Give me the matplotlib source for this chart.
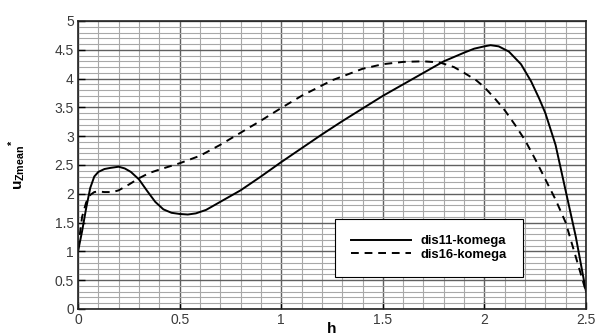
import numpy as np
import matplotlib
matplotlib.use("Agg")
import matplotlib.pyplot as plt
from matplotlib.ticker import MultipleLocator

plt.rcParams['font.family'] = ['Liberation Sans', 'DejaVu Sans']
plt.rcParams['mathtext.fontset'] = 'custom'
plt.rcParams['mathtext.rm'] = 'Liberation Sans'
plt.rcParams['mathtext.bf'] = 'Liberation Sans:bold'

# data
h_dis11 = [0.0, 0.02, 0.04, 0.06, 0.08, 0.1, 0.13, 0.16, 0.2, 0.23, 0.26, 0.3, 0.34, 0.38,
           0.42, 0.46, 0.5, 0.54, 0.58, 0.63, 0.7, 0.8, 0.9, 1.0, 1.1, 1.2, 1.3, 1.4, 1.5,
           1.6, 1.7, 1.8, 1.9, 1.95, 2.0, 2.03, 2.07, 2.12, 2.18, 2.23, 2.27, 2.3, 2.35,
           2.4, 2.45, 2.5]
u_dis11 = [1.0, 1.35, 1.75, 2.1, 2.3, 2.38, 2.43, 2.45, 2.47, 2.44, 2.38, 2.25, 2.05, 1.86,
           1.73, 1.67, 1.65, 1.64, 1.66, 1.72, 1.86, 2.06, 2.3, 2.55, 2.79, 3.03, 3.26, 3.48, 3.7,
           3.9, 4.1, 4.3, 4.45, 4.52, 4.56, 4.58, 4.56, 4.47, 4.25, 3.95, 3.65, 3.4, 2.85,
           2.05, 1.25, 0.3]

h_dis16 = [0.0, 0.02, 0.04, 0.06, 0.08, 0.1, 0.13, 0.17, 0.2, 0.25, 0.3, 0.35, 0.4, 0.5,
           0.6, 0.7, 0.8, 0.9, 1.0, 1.1, 1.25, 1.4, 1.5, 1.6, 1.7, 1.78, 1.85, 1.9, 1.96,
           2.0, 2.05, 2.1, 2.15, 2.2, 2.25, 2.3, 2.35, 2.4, 2.45, 2.5]
u_dis16 = [1.05, 1.6, 1.85, 1.98, 2.03, 2.04, 2.03, 2.03, 2.06, 2.16, 2.27, 2.36, 2.42, 2.53,
           2.66, 2.85, 3.06, 3.27, 3.49, 3.7, 3.97, 4.17, 4.25, 4.29, 4.3, 4.28, 4.2, 4.1,
           3.97, 3.85, 3.66, 3.45, 3.2, 2.93, 2.6, 2.25, 1.9, 1.5, 0.9, 0.3]

fig = plt.figure(figsize=(5.97, 3.36), dpi=100)
ax = fig.add_axes([0.1307, 0.0804, 0.8509, 0.8571])

ax.set_xlim(0, 2.5)
ax.set_ylim(0, 5)
ax.xaxis.set_major_locator(MultipleLocator(0.5))
ax.yaxis.set_major_locator(MultipleLocator(0.5))
ax.xaxis.set_minor_locator(MultipleLocator(0.1))
ax.yaxis.set_minor_locator(MultipleLocator(0.1))
ax.grid(which='minor', color='#a8a8a8', linewidth=0.8)
ax.grid(which='major', color='#606060', linewidth=1.0)
ax.set_axisbelow(True)
ax.tick_params(which='major', direction='in', length=5, width=1, labelsize=10,
               colors='black', labelcolor='#3a3a3a', pad=3)
ax.tick_params(which='minor', length=0)
ax.set_xticks([0, 0.5, 1, 1.5, 2, 2.5])
ax.set_xticklabels(['0', '0.5', '1', '1.5', '2', '2.5'])
ax.set_yticks([0, 0.5, 1, 1.5, 2, 2.5, 3, 3.5, 4, 4.5, 5])
ax.set_yticklabels(['0', '0.5', '1', '1.5', '2', '2.5', '3', '3.5', '4', '4.5', '5'])
for s in ax.spines.values():
    s.set_linewidth(1.2)
    s.set_color('#222222')

ax.plot(h_dis11, u_dis11, color='black', linewidth=1.4, label='dis11-komega')
ax.plot(h_dis16, u_dis16, color='black', linewidth=1.4, linestyle=(0, (4, 3)),
        label='dis16-komega')

leg = ax.legend(loc='lower right', bbox_to_anchor=(0.876, 0.111), borderaxespad=0,
                fancybox=False, framealpha=1, edgecolor='black', handlelength=4.6,
                handletextpad=0.7, borderpad=1.25, labelspacing=0.1,
                prop={'weight': 'bold', 'size': 9.4})
leg.get_frame().set_linewidth(0.8)

ax.set_xlabel('h', fontsize=11, fontweight='bold', labelpad=-4)
ax.set_ylabel(r'$\mathbf{u_{Zmean}}^{\mathbf{*}}$', fontsize=11)
ax.yaxis.set_label_coords(-0.098, 0.5)

fig.savefig('out.png', dpi=100)
